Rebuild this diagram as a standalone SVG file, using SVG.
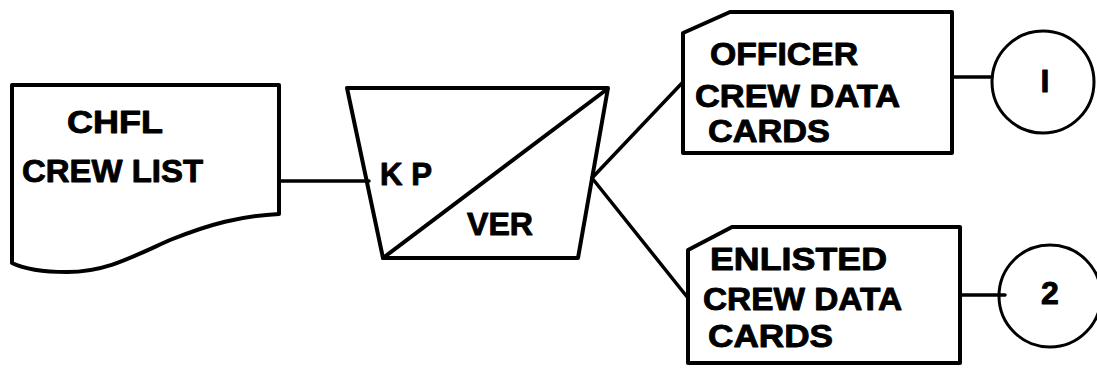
<svg xmlns="http://www.w3.org/2000/svg" width="1097" height="371" viewBox="0 0 1097 371">
  <style>
    .shape { fill: none; stroke: #000; stroke-width: 4; stroke-linejoin: round; stroke-linecap: round; }
    .link { fill: none; stroke: #000; stroke-width: 3.5; stroke-linecap: round; }
    .conn { fill: none; stroke: #000; stroke-width: 3; }
    .lbl { font-family: "Liberation Sans", Arial, sans-serif; font-weight: bold; font-size: 32px; fill: #000; stroke: #000; stroke-width: 0.9; stroke-linejoin: round; }
  </style>
  <rect width="1097" height="371" fill="#fff"/>

  <g id="connectors">
    <line class="link" x1="280" y1="181" x2="369" y2="181"/>
    <line class="link" x1="592" y1="178" x2="683" y2="82"/>
    <line class="link" x1="592" y1="178" x2="688" y2="298"/>
    <line class="link" x1="952" y1="77" x2="992" y2="77"/>
    <line class="link" x1="960" y1="295" x2="1005" y2="295"/>
  </g>

  <g id="crew-list">
    <path class="shape" d="M12 85 L279 85 L279 214 C240 216 210 224 170 240 C130 258 105 272 67 272 C40 272 22 268 12 263 Z"/>
    <text class="lbl" x="67" y="133" textLength="96" lengthAdjust="spacingAndGlyphs">CHFL</text>
    <text class="lbl" x="22" y="182" textLength="181" lengthAdjust="spacingAndGlyphs">CREW LIST</text>
  </g>

  <g id="keypunch-verify">
    <path class="shape" d="M347 88 L608 88 L578 258 L383 258 Z"/>
    <line class="shape" x1="383" y1="258" x2="606" y2="90"/>
    <text class="lbl" x="380" y="185" textLength="52" lengthAdjust="spacingAndGlyphs">K P</text>
    <text class="lbl" x="467" y="235" textLength="66" lengthAdjust="spacingAndGlyphs">VER</text>
  </g>

  <g id="officer-cards">
    <path class="shape" d="M683 33 L730 12 L952 12 L952 153 L683 153 Z"/>
    <text class="lbl" x="710" y="65" textLength="148" lengthAdjust="spacingAndGlyphs">OFFICER</text>
    <text class="lbl" x="695" y="107" textLength="205" lengthAdjust="spacingAndGlyphs">CREW DATA</text>
    <text class="lbl" x="708" y="142" textLength="122" lengthAdjust="spacingAndGlyphs">CARDS</text>
  </g>

  <g id="enlisted-cards">
    <path class="shape" d="M688 250 L732 227 L960 227 L960 363 L688 363 Z"/>
    <text class="lbl" x="710" y="270" textLength="177" lengthAdjust="spacingAndGlyphs">ENLISTED</text>
    <text class="lbl" x="703" y="310" textLength="199" lengthAdjust="spacingAndGlyphs">CREW DATA</text>
    <text class="lbl" x="708" y="347" textLength="125" lengthAdjust="spacingAndGlyphs">CARDS</text>
  </g>

  <g id="connector-1">
    <circle class="conn" cx="1043" cy="82" r="51"/>
    <text class="lbl" x="1045" y="92" text-anchor="middle" font-size="28">I</text>
  </g>

  <g id="connector-2">
    <circle class="conn" cx="1050" cy="296" r="51"/>
    <text class="lbl" x="1050" y="304" text-anchor="middle" font-size="28">2</text>
  </g>
</svg>
